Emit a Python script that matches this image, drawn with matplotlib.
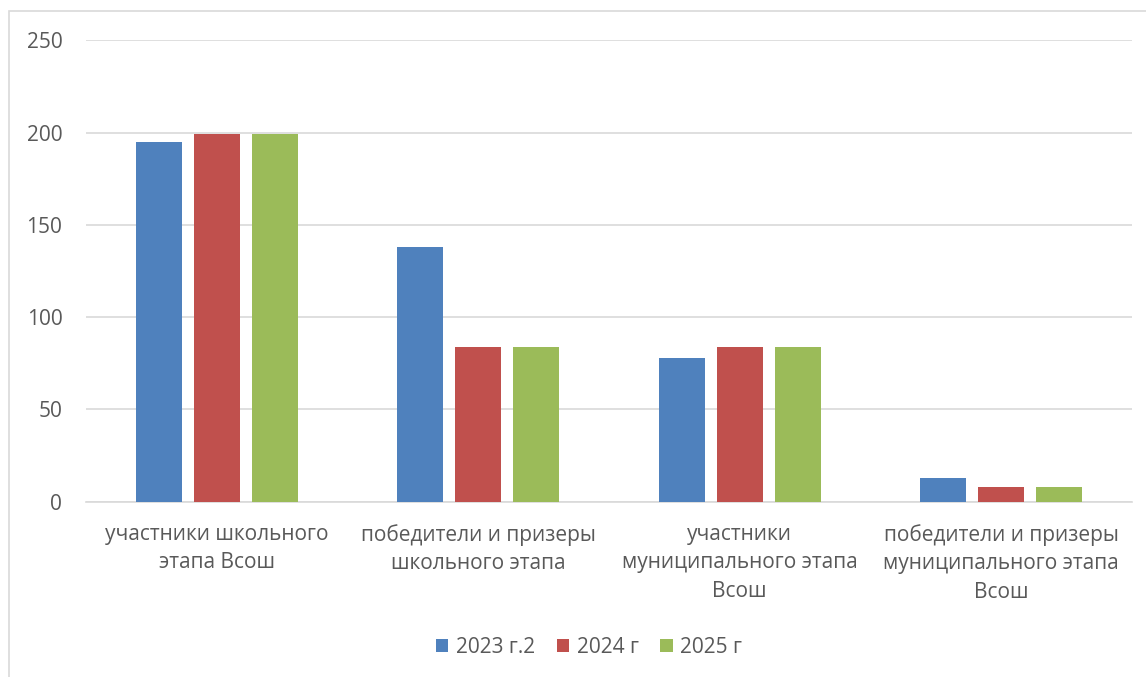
import matplotlib.pyplot as plt
import matplotlib.patches as patches
import numpy as np

plt.rcParams['font.family'] = ['Open Sans', 'DejaVu Sans']

categories = ['участники школьного\nэтапа Всош',
              'победители и призеры\nшкольного этапа',
              'участники\nмуниципального этапа\nВсош',
              'победители и призеры\nмуниципального этапа\nВсош']
series_names = ['2023 г.2', '2024 г', '2025 г']
values_2023 = [195, 138, 78, 13]
values_2024 = [199, 84, 84, 8]
values_2025 = [199, 84, 84, 8]
colors = ['#4F81BD', '#C0504D', '#9BBB59']
yticks = [0, 50, 100, 150, 200, 250]

fig = plt.figure(figsize=(11.46, 6.77), dpi=100)
ax = fig.add_axes([0.0750, 0.2592, 0.9128, 0.6813])

# chart frame like the office export
fig.patches.append(patches.Rectangle((9 / 1146, -0.1), 1.2, 1 - 11 / 677 + 0.1,
                                     transform=fig.transFigure, fill=False,
                                     edgecolor='#D9D9D9', linewidth=1.2))

x = np.arange(len(categories))
width = 0.176
step = 0.222
for i, (vals, name) in enumerate(zip([values_2023, values_2024, values_2025], series_names)):
    ax.bar(x + (i - 1) * step, vals, width, color=colors[i], label=name, zorder=3)

ax.set_xlim(-0.5, len(categories) - 0.5)
ax.set_ylim(0, 250)
ax.set_yticks(yticks)
ax.yaxis.grid(True, color='#D9D9D9', linewidth=1.2, zorder=0)
ax.set_axisbelow(True)
for s in ['top', 'right', 'left']:
    ax.spines[s].set_visible(False)
ax.spines['bottom'].set_color('#D9D9D9')
ax.spines['bottom'].set_linewidth(1.2)
ax.tick_params(axis='y', length=0, pad=17, labelsize=15, labelcolor='#595959')
ax.tick_params(axis='x', length=0, pad=16, labelsize=15, labelcolor='#595959')
ax.set_xticks(x)
ax.set_xticklabels(categories, linespacing=1.48)

leg = fig.legend(loc='center', bbox_to_anchor=(0.514, 0.044), ncol=3, frameon=False,
                 fontsize=15, handlelength=0.6, handleheight=0.6, handletextpad=0.35,
                 columnspacing=1.05)
for t in leg.get_texts():
    t.set_color('#595959')

fig.savefig('out.png', dpi=100)
